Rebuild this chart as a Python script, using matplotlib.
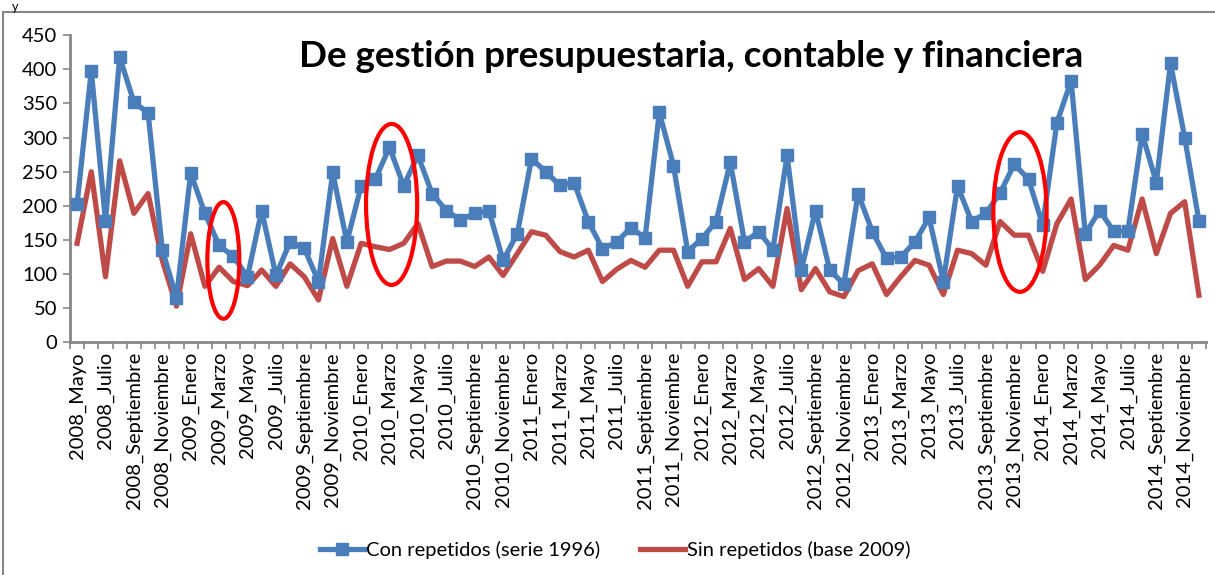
import numpy as np
import matplotlib
matplotlib.use("Agg")
import matplotlib.pyplot as plt
from matplotlib.patches import Ellipse, Rectangle
from matplotlib.lines import Line2D

# ── Data ──────────────────────────────────────────────────────────────────────
meses = ["Enero", "Febrero", "Marzo", "Abril", "Mayo", "Junio", "Julio",
         "Agosto", "Septiembre", "Octubre", "Noviembre", "Diciembre"]
periodos = [f"{a}_{m}" for a in range(2008, 2015) for m in meses][4:]

con_repetidos = [203, 398, 178, 418, 352, 336, 136, 65, 248, 189, 142, 126,
                 96, 193, 98, 147, 138, 89, 249, 147, 229, 239, 286, 229,
                 274, 218, 193, 179, 189, 193, 120, 159, 269, 250, 230, 234,
                 177, 137, 147, 168, 153, 337, 259, 133, 152, 177, 264, 147,
                 162, 136, 274, 106, 193, 106, 85, 218, 162, 123, 125, 147,
                 183, 89, 229, 177, 189, 219, 261, 239, 172, 322, 383, 159,
                 193, 163, 163, 306, 234, 409, 300, 178]

sin_repetidos = [145, 250, 96, 266, 189, 218, 120, 53, 159, 82, 110, 89,
                 83, 106, 82, 115, 96, 62, 152, 82, 145, 140, 136, 145,
                 174, 111, 119, 119, 111, 125, 98, 130, 162, 157, 133, 125,
                 135, 89, 107, 120, 110, 135, 135, 82, 118, 118, 167, 92,
                 108, 82, 196, 77, 108, 74, 67, 105, 115, 70, 96, 120,
                 113, 70, 135, 130, 113, 177, 157, 157, 104, 174, 210, 92,
                 113, 142, 135, 210, 130, 189, 206, 69]

# highlighted zones (x in month index, y in value units)
circ_x = [10.3, 22.15, 66.4]
circ_y = [120, 202, 191]
circ_w = [2.25, 3.6, 3.75]
circ_h = [171, 236, 234]

azul = "#4A7EBB"
rojo = "#BE4B48"

plt.rcParams["font.family"] = ["Lato", "DejaVu Sans"]

fig = plt.figure(figsize=(12.15, 5.75), dpi=100)
ax = fig.add_axes([0.0576, 0.4047, 0.935, 0.534])

x = np.arange(len(periodos))
ax.plot(x, con_repetidos, color=azul, lw=3.8, marker="s", ms=8,
        label="Con repetidos (serie 1996)", zorder=3)
ax.plot(x, sin_repetidos, color=rojo, lw=3.8,
        label="Sin repetidos (base 2009)", zorder=2)

for cx, cy, w, h in zip(circ_x, circ_y, circ_w, circ_h):
    ax.add_patch(Ellipse((cx, cy), w, h, fill=False, ec="#FF0000", lw=3, zorder=4))

ax.set_xlim(-0.5, len(periodos) - 0.5)
ax.set_ylim(0, 450)
ax.set_yticks(range(0, 451, 50))
ax.set_xticks(x[::2])
ax.set_xticklabels(periodos[::2], rotation=90, fontsize=14.5)
ax.set_xticks(np.arange(-0.5, len(periodos), 1), minor=True)
ax.tick_params(axis="x", which="major", length=0, pad=7)
ax.tick_params(axis="x", which="minor", length=5, color="#868686", width=1.2)
ax.tick_params(axis="y", length=5, color="#868686", width=1.2, labelsize=14.5, pad=4)

for s in ["top", "right"]:
    ax.spines[s].set_visible(False)
for s in ["left", "bottom"]:
    ax.spines[s].set_color("#868686")
    ax.spines[s].set_linewidth(2)

ax.text(0.547, 0.93, "De gestión presupuestaria, contable y financiera",
        transform=ax.transAxes, ha="center", va="center",
        fontsize=26.5, fontweight="bold")

h1 = Line2D([], [], color=azul, lw=3.8, marker="s", ms=8)
h2 = Line2D([], [], color=rojo, lw=3.8)
fig.legend([h1, h2], ["Con repetidos (serie 1996)", "Sin repetidos (base 2009)"],
           loc="center", bbox_to_anchor=(0.506, 0.043), ncol=2, frameon=False,
           fontsize=14.5, handlelength=2.2, handletextpad=0.1, columnspacing=2.0)

# outer chart border and clipped text above
fig.patches.append(Rectangle((3 / 1215, -0.1), 1.2, 1.1 - 12 / 575,
                             transform=fig.transFigure, fill=False,
                             ec="#868686", lw=1.5))
fig.text(12 / 1215, 0.999, "y", fontsize=9, va="top", ha="left")

fig.savefig("out.png", dpi=100)
